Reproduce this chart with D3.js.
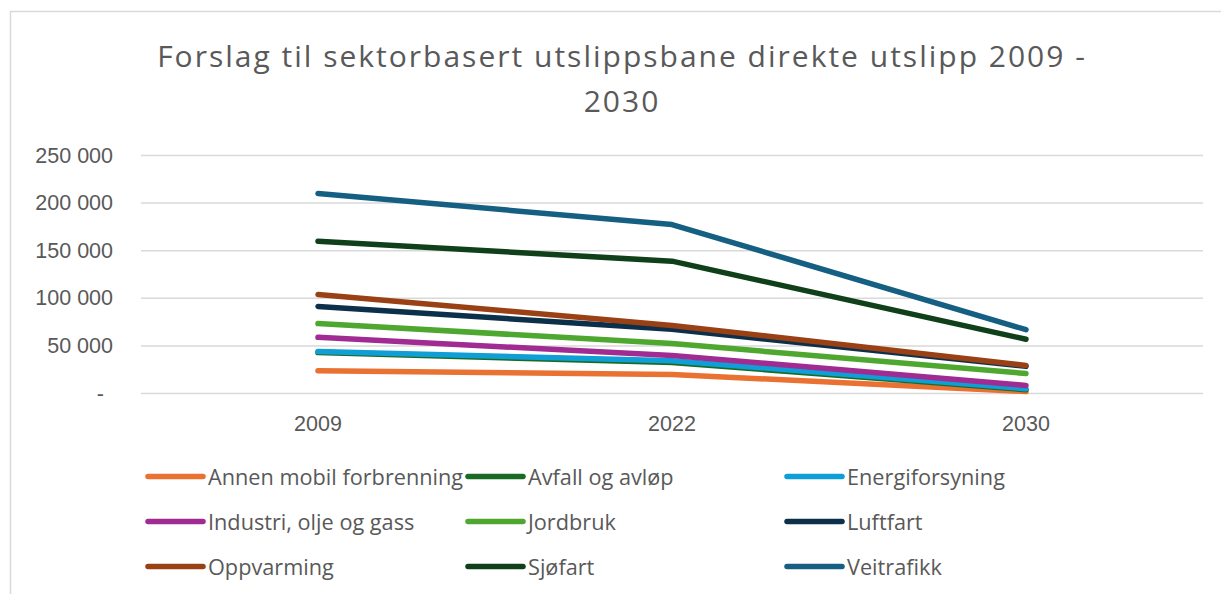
<!DOCTYPE html>
<html>
<head>
<meta charset="utf-8">
<script src="https://cdn.jsdelivr.net/npm/d3@7"></script>
<style>
  html, body { margin: 0; padding: 0; background: #fff; }
  #chart { width: 1221px; height: 594px; }
  text { fill: #595959; }
</style>
</head>
<body>
<div id="chart"></div>
<script>
// Chart data
const years = ["2009", "2022", "2030"];
const seriesNames = [
  "Annen mobil forbrenning", "Avfall og avløp", "Energiforsyning",
  "Industri, olje og gass", "Jordbruk", "Luftfart",
  "Oppvarming", "Sjøfart", "Veitrafikk"
];
const annenMobil = [24000, 20000, 2000];
const avfall = [43000, 32500, 4000];
const energi = [44000, 34500, 5000];
const industri = [59000, 40000, 8500];
const jordbruk = [73500, 52500, 21000];
const luftfart = [91500, 67500, 28500];
const oppvarming = [104000, 71500, 29500];
const sjofart = [160000, 139000, 57000];
const veitrafikk = [210000, 177500, 67000];
const yTicks = [0, 50000, 100000, 150000, 200000, 250000];
const colors = ["#E97132", "#196B24", "#0F9ED5", "#A02B93", "#4EA72E",
                "#0C3049", "#9A4015", "#10401A", "#156082"];

const values = [annenMobil, avfall, energi, industri, jordbruk, luftfart, oppvarming, sjofart, veitrafikk];
const series = seriesNames.map((name, i) => ({
  name: name,
  color: colors[i],
  points: years.map((y, j) => ({ year: y, value: values[i][j] }))
}));

let width = 1221;
let height = 594;
let plot = { left: 141, right: 1203, top: 155.5, bottom: 393.5 };

let svg = d3.select("#chart").append("svg")
  .attr("width", width)
  .attr("height", height)
  .style("font-family", "'Liberation Sans', Arial, sans-serif");

// Outer frame (right and bottom fall off the picture)
svg.append("rect")
  .attr("x", 10.5).attr("y", 11.5)
  .attr("width", 1230).attr("height", 600)
  .attr("fill", "none")
  .attr("stroke", "#D9D9D9")
  .attr("stroke-width", 1.5);

// Title
let title = svg.append("text")
  .attr("text-anchor", "middle")
  .style("font-family", "'Open Sans', sans-serif")
  .style("font-size", "30px")
  .style("letter-spacing", "2px");
title.append("tspan").attr("x", 622).attr("y", 67)
  .text("Forslag til sektorbasert utslippsbane direkte utslipp 2009 -");
title.append("tspan").attr("x", 622).attr("y", 112)
  .text("2030");

// Scales
let x = d3.scaleBand()
  .domain(years)
  .range([plot.left, plot.right]);

let y = d3.scaleLinear()
  .domain([0, 250000])
  .range([plot.bottom, plot.top]);

// Gridlines
svg.append("g")
  .selectAll("line")
  .data(yTicks)
  .enter()
  .append("line")
    .attr("x1", plot.left).attr("x2", plot.right)
    .attr("y1", d => y(d)).attr("y2", d => y(d))
    .attr("stroke", "#D9D9D9")
    .attr("stroke-width", 1.5);

// Y axis labels
const fmt = d => d === 0 ? "-" : d3.format(",")(d).replace(/,/g, " ");
svg.append("g")
  .selectAll("text")
  .data(yTicks)
  .enter()
  .append("text")
    .attr("x", d => d === 0 ? 104 : 113)
    .attr("y", d => y(d) + 7)
    .attr("text-anchor", "end")
    .style("font-size", "21.5px")
    .text(fmt);

// X axis labels
svg.append("g")
  .selectAll("text")
  .data(years)
  .enter()
  .append("text")
    .attr("x", d => x(d) + x.bandwidth() / 2)
    .attr("y", 431)
    .attr("text-anchor", "middle")
    .style("font-size", "21.5px")
    .text(d => d);

// Lines
let line = d3.line()
  .x(d => x(d.year) + x.bandwidth() / 2)
  .y(d => y(d.value));

svg.append("g")
  .selectAll("path")
  .data(series)
  .enter()
  .append("path")
    .attr("d", d => line(d.points))
    .attr("fill", "none")
    .attr("stroke", d => d.color)
    .attr("stroke-width", 5.5)
    .attr("stroke-linecap", "round")
    .attr("stroke-linejoin", "round");

// Legend, 3 columns x 3 rows
let legendCols = [148, 468, 787];
let legendRows = [476.5, 521.5, 566.5];
let legend = svg.append("g")
  .selectAll("g")
  .data(series)
  .enter()
  .append("g")
    .attr("transform", (d, i) => `translate(${legendCols[i % 3]},${legendRows[Math.floor(i / 3)]})`);

legend.append("line")
  .attr("x1", 0).attr("x2", 55)
  .attr("y1", 0).attr("y2", 0)
  .attr("stroke", d => d.color)
  .attr("stroke-width", 5.5)
  .attr("stroke-linecap", "round");

legend.append("text")
  .attr("x", 60)
  .attr("y", 8)
  .style("font-family", "'Open Sans', sans-serif")
  .style("font-size", "21.7px")
  .text(d => d.name);
</script>
</body>
</html>
